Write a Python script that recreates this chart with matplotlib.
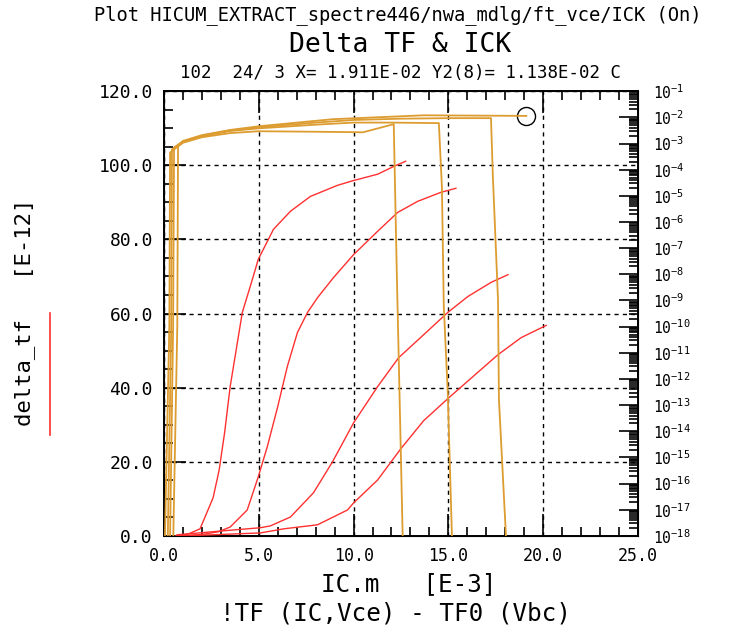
import numpy as np
import matplotlib
matplotlib.use('Agg')
import matplotlib.pyplot as plt
from matplotlib.lines import Line2D
from matplotlib.ticker import MultipleLocator, LogLocator, NullFormatter, FormatStrFormatter

matplotlib.rcParams['font.family'] = 'DejaVu Sans Mono'
matplotlib.rcParams['mathtext.fontset'] = 'custom'
matplotlib.rcParams['mathtext.rm'] = 'DejaVu Sans Mono'

# delta_tf [ps] vs IC [mA], one curve per Vce
ic_r1 = [0.62, 1.27, 1.90, 2.59, 2.91, 3.2, 3.49, 4.13, 4.66, 4.97, 5.77, 6.67, 7.72, 9.15, 10.0, 11.27, 12.12, 12.75]
tf_r1 = [0, 0.5, 1.9, 10.3, 17.8, 28.0, 40.3, 60.3, 69.2, 74.6, 82.7, 87.6, 91.6, 94.6, 95.9, 97.6, 99.7, 101.1]
ic_r2 = [0.7, 2.0, 2.86, 3.49, 4.39, 4.97, 5.45, 5.98, 6.51, 7.04, 7.57, 8.10, 8.94, 10.0, 11.27, 12.33, 13.39, 14.60, 15.4]
tf_r2 = [0, 0.4, 1.1, 2.4, 7.0, 15.9, 24.1, 34.5, 45.8, 54.9, 60.3, 64.3, 69.7, 75.9, 82.2, 87.3, 90.3, 92.7, 93.8]
ic_r3 = [0.69, 3.65, 5.08, 5.61, 6.67, 7.88, 8.89, 10.0, 11.27, 12.38, 13.70, 14.97, 16.03, 17.25, 18.15]
tf_r3 = [0.3, 1.6, 2.2, 2.7, 5.1, 11.6, 20.0, 30.5, 40.3, 48.1, 54.3, 60.3, 64.6, 68.4, 70.5]
ic_r4 = [1.0, 5.08, 6.3, 8.1, 9.68, 10.0, 11.27, 12.49, 13.70, 15.03, 16.3, 17.62, 18.84, 20.16]
tf_r4 = [0, 0.8, 1.9, 3.0, 7.0, 8.9, 15.1, 23.5, 31.1, 37.3, 43.0, 48.9, 53.5, 56.8]

# ICK [A] vs IC [mA] on the log axis
ic_k1 = [0.05, 0.28, 0.32, 1.0, 2.0, 3.5, 5.0, 8.0, 10.5, 12.12, 12.28, 12.49, 12.59]
ick_1 = [1e-18, 1e-10, 4.57e-4, 1.07e-3, 1.74e-3, 2.51e-3, 2.95e-3, 2.82e-3, 2.69e-3, 5.5e-3, 1.2e-8, 2e-15, 1e-18]
ic_k2 = [0.2, 0.38, 0.42, 1.0, 2.0, 3.5, 5.0, 8.0, 10.0, 12.0, 14.5, 14.66, 14.76, 14.97, 15.03, 15.19]
ick_2 = [1e-18, 1e-10, 6.03e-4, 1.17e-3, 1.91e-3, 3.02e-3, 3.8e-3, 5.25e-3, 6.31e-3, 6.31e-3, 6.03e-3, 2.3e-5, 5.9e-10, 3e-13, 8.7e-15, 1e-18]
ic_k3 = [0.32, 0.48, 0.53, 1.0, 2.0, 3.5, 5.0, 8.0, 10.0, 12.5, 15.0, 17.25, 17.35, 17.62, 17.67, 18.04]
ick_3 = [1e-18, 1e-10, 7.08e-4, 1.2e-3, 2.0e-3, 3.16e-3, 4.17e-3, 6.31e-3, 7.94e-3, 8.91e-3, 9.33e-3, 9.33e-3, 5.5e-5, 1.1e-9, 1.6e-13, 1e-18]
ic_k4 = [0.49, 0.7, 0.74, 1.0, 2.0, 3.5, 5.0, 8.9, 13.7, 19.11]
ick_4 = [1e-18, 1e-10, 8.51e-4, 1.26e-3, 2.09e-3, 3.31e-3, 4.57e-3, 8.51e-3, 1.2e-2, 1.138e-2]

cursor_x = 19.11
cursor_y2 = 1.138e-2

red = '#ff3030'
orange = '#dd9c30'

fig = plt.figure(figsize=(7.29, 6.29), dpi=100)
ax = fig.add_axes([0.225, 0.148, 0.650, 0.707])

for x, y in [(ic_r1, tf_r1), (ic_r2, tf_r2), (ic_r3, tf_r3), (ic_r4, tf_r4)]:
    ax.plot(x, y, color=red, lw=1.0, zorder=3)

ax.set_xlim(0, 25)
ax.set_ylim(0, 120)
ax.xaxis.set_major_locator(MultipleLocator(5))
ax.xaxis.set_minor_locator(MultipleLocator(1))
ax.yaxis.set_major_locator(MultipleLocator(20))
ax.yaxis.set_minor_locator(MultipleLocator(5))
ax.xaxis.set_major_formatter(FormatStrFormatter('%.1f'))
ax.yaxis.set_major_formatter(FormatStrFormatter('%.1f'))
ax.tick_params(which='both', direction='in', top=True, right=False, width=1.2, labelsize=13)
ax.tick_params(axis='x', labelsize=12, pad=8)
ax.tick_params(which='major', length=16)
ax.tick_params(which='minor', length=6.5)
ax.tick_params(axis='y', pad=8)
ax.grid(which='major', color='black', linestyle=(0, (3, 3)), lw=1)
for s in ax.spines.values():
    s.set_linewidth(1.4)

ax2 = ax.twinx()
for x, y in [(ic_k1, ick_1), (ic_k2, ick_2), (ic_k3, ick_3), (ic_k4, ick_4)]:
    ax2.plot(x, y, color=orange, lw=1.3, zorder=3)
ax2.plot([cursor_x], [cursor_y2], 'o', ms=13, mfc='none', mec='black', mew=1)
ax2.set_yscale('log')
ax2.set_ylim(1e-18, 1e-1)
ax2.yaxis.set_major_locator(LogLocator(base=10, numticks=40))
ax2.yaxis.set_minor_locator(LogLocator(base=10, subs=np.arange(2, 10) * 1.0, numticks=400))
ax2.yaxis.set_minor_formatter(NullFormatter())
ax2.tick_params(axis='y', which='both', direction='in', width=1.2, labelsize=10.5, pad=11)
ax2.tick_params(axis='y', which='major', length=14)
ax2.tick_params(axis='y', which='minor', length=6.5)

fig.text(0.545, 0.976, 'Plot HICUM_EXTRACT_spectre446/nwa_mdlg/ft_vce/ICK (On)',
         ha='center', va='center', fontsize=13.5)
fig.text(0.549, 0.928, 'Delta TF & ICK', ha='center', va='center', fontsize=19)
fig.text(0.549, 0.884, '102  24/ 3 X= 1.911E-02 Y2(8)= 1.138E-02 C',
         ha='center', va='center', fontsize=12.5)

fig.text(0.034, 0.504, 'delta_tf   [E-12]', rotation=90, ha='center', va='center', fontsize=16)
fig.add_artist(Line2D([50 / 729, 50 / 729], [1 - 435 / 629, 1 - 313 / 629], color=red, lw=1.2))

fig.text(0.561, 0.072, 'IC.m   [E-3]', ha='center', va='center', fontsize=17.5)
fig.text(0.542, 0.024, '!TF (IC,Vce) - TF0 (Vbc)', ha='center', va='center', fontsize=17.5)

fig.savefig('out.png', dpi=100)
